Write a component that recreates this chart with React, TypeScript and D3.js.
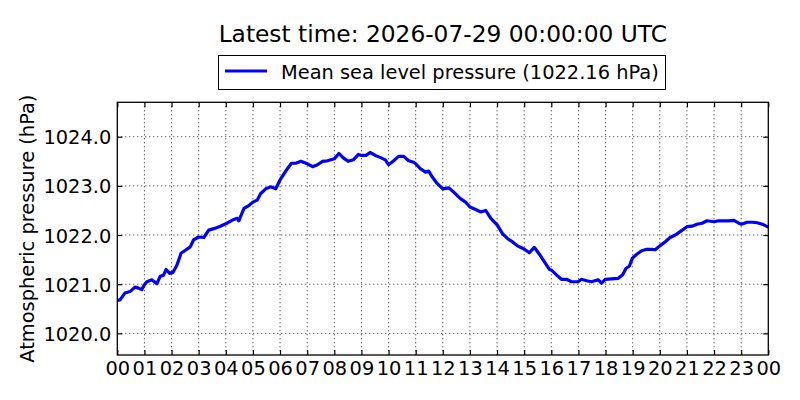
import React, { FC, useEffect, useRef } from "react"
import { axisBottom, axisLeft, axisRight, axisTop, line, scaleLinear, select } from "d3"

// hours since 00 UTC
const hours = [
  0.0, 0.1, 0.28, 0.47, 0.65, 0.78, 0.9, 1.0, 1.09, 1.27, 1.46, 1.58, 1.7, 1.8, 1.93,
  2.05, 2.2, 2.35, 2.51, 2.69, 2.81, 3.0, 3.19, 3.37, 3.56, 3.8, 4.0, 4.23, 4.42, 4.48,
  4.67, 4.85, 5.0, 5.16, 5.28, 5.47, 5.65, 5.84, 6.0, 6.15, 6.27, 6.42, 6.58, 6.77, 7.0,
  7.2, 7.38, 7.57, 7.75, 8.0, 8.17, 8.33, 8.52, 8.7, 8.89, 9.0, 9.17, 9.32, 9.51, 9.69,
  9.88, 10.0, 10.19, 10.37, 10.56, 10.74, 10.93, 11.0, 11.17, 11.36, 11.48, 11.6, 11.79,
  12.0, 12.22, 12.41, 12.65, 12.84, 13.0, 13.21, 13.4, 13.58, 13.77, 14.01, 14.2, 14.38,
  14.57, 14.75, 15.01, 15.19, 15.37, 15.56, 15.74, 15.93, 16.0, 16.19, 16.37, 16.56,
  16.74, 16.99, 17.11, 17.3, 17.48, 17.73, 17.85, 17.99, 18.22, 18.47, 18.63, 18.75,
  18.88, 18.99, 19.15, 19.33, 19.52, 19.7, 19.83, 20.0, 20.19, 20.38, 20.57, 20.75, 21.0,
  21.19, 21.37, 21.56, 21.74, 22.0, 22.17, 22.36, 22.54, 22.73, 22.91, 23.01, 23.22,
  23.41, 23.59, 23.78, 24.0,
]

// mean sea level pressure, hPa
const pressure = [
  1020.67, 1020.68, 1020.82, 1020.85, 1020.94, 1020.92, 1020.89, 1020.99, 1021.05, 1021.09,
  1021.01, 1021.16, 1021.18, 1021.3, 1021.22, 1021.24, 1021.39, 1021.63, 1021.69, 1021.76,
  1021.9, 1021.96, 1021.95, 1022.1, 1022.13, 1022.18, 1022.23, 1022.3, 1022.34, 1022.29,
  1022.54, 1022.6, 1022.67, 1022.71, 1022.84, 1022.94, 1022.98, 1022.94, 1023.12, 1023.25,
  1023.35, 1023.46, 1023.46, 1023.5, 1023.45, 1023.39, 1023.43, 1023.5, 1023.51, 1023.55,
  1023.66, 1023.57, 1023.5, 1023.53, 1023.64, 1023.62, 1023.62, 1023.68, 1023.62, 1023.58,
  1023.53, 1023.43, 1023.51, 1023.6, 1023.6, 1023.51, 1023.48, 1023.45, 1023.35, 1023.28,
  1023.3, 1023.19, 1023.05, 1022.94, 1022.96, 1022.87, 1022.74, 1022.67, 1022.57, 1022.52,
  1022.47, 1022.5, 1022.34, 1022.2, 1022.03, 1021.93, 1021.86, 1021.78, 1021.71, 1021.64,
  1021.75, 1021.61, 1021.46, 1021.3, 1021.29, 1021.19, 1021.1, 1021.1, 1021.05, 1021.05,
  1021.1, 1021.07, 1021.05, 1021.09, 1021.02, 1021.1, 1021.11, 1021.12, 1021.19, 1021.32,
  1021.37, 1021.53, 1021.61, 1021.68, 1021.71, 1021.71, 1021.7, 1021.78, 1021.86, 1021.95,
  1022.0, 1022.07, 1022.17, 1022.18, 1022.22, 1022.24, 1022.29, 1022.27, 1022.29, 1022.29,
  1022.29, 1022.3, 1022.24, 1022.22, 1022.26, 1022.26, 1022.25, 1022.22, 1022.16,
]

const hourTicks = Array.from({ length: 25 }, (_, i) => i)
const pressureTicks = [1020, 1021, 1022, 1023, 1024]
const title = "Latest time: 2026-07-29 00:00:00 UTC"
const legendLabel = "Mean sea level pressure (1022.16 hPa)"
const yLabel = "Atmospheric pressure (hPa)"

type D = { hour: number; value: number }
const data: D[] = hours.map((hour, i) => ({ hour, value: pressure[i] }))

const App: FC = () => {
  const svgRef = useRef<SVGSVGElement>(null)

  useEffect(() => {
    if (!svgRef.current) return
    const svg = select(svgRef.current)
    svg.selectAll("*").remove()

    const width = 800
    const height = 400
    const margin = { top: 102.3, right: 31.7, bottom: 45, left: 117.3 }
    const left = margin.left
    const right = width - margin.right
    const top = margin.top
    const bottom = height - margin.bottom
    const font = "DejaVu Sans, Verdana, sans-serif"

    const xScale = scaleLinear().domain([0, 24]).range([left, right])
    const yScale = scaleLinear().domain([1019.56, 1024.7]).range([bottom, top])

    // grid
    const grid = svg.append("g")
    grid
      .selectAll(".vgrid")
      .data(hourTicks.slice(1, -1))
      .join("line")
      .attr("x1", (d) => xScale(d))
      .attr("x2", (d) => xScale(d))
      .attr("y1", top)
      .attr("y2", bottom)
    grid
      .selectAll(".hgrid")
      .data(pressureTicks)
      .join("line")
      .attr("x1", left)
      .attr("x2", right)
      .attr("y1", (d) => yScale(d))
      .attr("y2", (d) => yScale(d))
    grid
      .selectAll("line")
      .attr("stroke", "#222")
      .attr("stroke-width", 1)
      .attr("stroke-dasharray", "1,3")

    // data
    const path = line<D>()
      .x((d) => xScale(d.hour))
      .y((d) => yScale(d.value))
    svg
      .append("path")
      .datum(data)
      .attr("d", path)
      .attr("fill", "none")
      .attr("stroke", "#0000ff")
      .attr("stroke-width", 3.2)
      .attr("stroke-linejoin", "round")

    // axes, ticks pointing inward
    const fmtHour = (d: any) => String(d % 24).padStart(2, "0")
    const xAxis = svg
      .append("g")
      .attr("transform", `translate(0,${bottom})`)
      .call(axisBottom(xScale).tickValues(hourTicks).tickSize(-5).tickPadding(6).tickFormat(fmtHour))
    svg
      .append("g")
      .attr("transform", `translate(0,${top})`)
      .call(axisTop(xScale).tickValues(hourTicks).tickSize(-5).tickFormat(() => ""))
    const yAxis = svg
      .append("g")
      .attr("transform", `translate(${left},0)`)
      .call(axisLeft(yScale).tickValues(pressureTicks).tickSize(-5).tickPadding(6).tickFormat((d: any) => d.toFixed(1)))
    svg
      .append("g")
      .attr("transform", `translate(${right},0)`)
      .call(axisRight(yScale).tickValues(pressureTicks).tickSize(-5).tickFormat(() => ""))

    svg.selectAll(".domain").remove()
    svg.selectAll(".tick line").attr("stroke", "#000").attr("stroke-width", 1.2)
    xAxis.selectAll("text").attr("font-size", 19.4).attr("font-family", font).attr("fill", "#000")
    yAxis
      .selectAll("text")
      .attr("font-size", 19.4)
      .attr("font-family", font)
      .attr("fill", "#000")
      .attr("dy", "0.36em")

    // frame
    svg
      .append("rect")
      .attr("x", left)
      .attr("y", top)
      .attr("width", right - left)
      .attr("height", bottom - top)
      .attr("fill", "none")
      .attr("stroke", "#000")
      .attr("stroke-width", 1.3)

    // title
    svg
      .append("text")
      .text(title)
      .attr("x", (left + right) / 2)
      .attr("y", 41.7)
      .attr("text-anchor", "middle")
      .attr("font-size", 23.3)
      .attr("font-family", font)

    // legend
    const legend = svg.append("g")
    legend
      .append("rect")
      .attr("x", 218.5)
      .attr("y", 55.5)
      .attr("width", 447)
      .attr("height", 34)
      .attr("fill", "#fff")
      .attr("stroke", "#000")
      .attr("stroke-width", 1)
    legend
      .append("line")
      .attr("x1", 225)
      .attr("x2", 267)
      .attr("y1", 71)
      .attr("y2", 71)
      .attr("stroke", "#0000ff")
      .attr("stroke-width", 3)
    legend
      .append("text")
      .text(legendLabel)
      .attr("x", 281)
      .attr("y", 78.5)
      .attr("font-size", 19.4)
      .attr("font-family", font)

    // y label
    svg
      .append("text")
      .text(yLabel)
      .attr("transform", `translate(34,${(top + bottom) / 2}) rotate(-90)`)
      .attr("text-anchor", "middle")
      .attr("font-size", 19.4)
      .attr("font-family", font)
  }, [])

  return (
    <svg
      ref={svgRef}
      width={800}
      height={400}
      style={{ position: "absolute", left: 0, top: 0, background: "#fff" }}
    />
  )
}

export default App
